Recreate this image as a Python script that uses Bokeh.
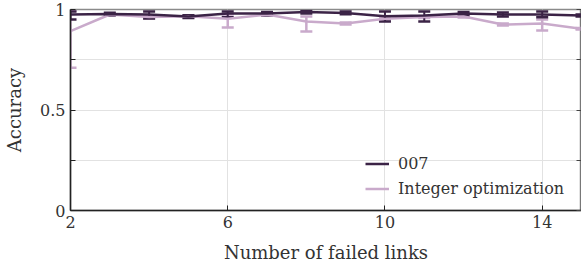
from bokeh.plotting import figure
from bokeh.models import ColumnDataSource, Whisker, TeeHead, LinearAxis, FixedTicker, Legend, LegendItem, Range1d
from bokeh.embed import file_html
from bokeh.resources import INLINE

links = [2, 3, 4, 5, 6, 7, 8, 9, 10, 11, 12, 13, 14, 15]
acc_007 = [0.975, 0.978, 0.975, 0.965, 0.98, 0.98, 0.987, 0.983, 0.967, 0.97, 0.98, 0.975, 0.975, 0.97]
lo_007 = [0.95, 0.972, 0.955, 0.958, 0.962, 0.972, 0.98, 0.976, 0.94, 0.94, 0.972, 0.965, 0.962, 0.965]
hi_007 = [0.99, 0.984, 0.99, 0.972, 0.99, 0.988, 0.993, 0.99, 0.99, 0.99, 0.988, 0.985, 0.99, 0.975]
acc_int = [0.892, 0.975, 0.963, 0.967, 0.954, 0.975, 0.94, 0.93, 0.954, 0.963, 0.965, 0.925, 0.93, 0.904]
lo_int = [0.71, 0.97, 0.955, 0.962, 0.91, 0.97, 0.89, 0.925, 0.95, 0.958, 0.96, 0.92, 0.895, 0.9]
hi_int = [0.993, 0.98, 0.97, 0.972, 0.975, 0.98, 0.965, 0.935, 0.958, 0.968, 0.97, 0.93, 0.95, 0.908]

C007 = "#3b2346"
CINT = "#c9aacb"
FONT = "DejaVu Serif"

p = figure(width=581, height=265, output_backend="svg", toolbar_location=None,
           x_range=Range1d(2, 15), y_range=Range1d(0, 1),
           min_border_left=70, min_border_top=9, min_border_right=0, min_border_bottom=0)
p.outline_line_color = "#8a8a8a"
p.outline_line_width = 1.5

s_int = ColumnDataSource(dict(x=links, y=acc_int, lo=lo_int, hi=hi_int))
s_007 = ColumnDataSource(dict(x=links, y=acc_007, lo=lo_007, hi=hi_007))

r_int = p.line("x", "y", source=s_int, color=CINT, line_width=2.5)
w_int = Whisker(source=s_int, base="x", lower="lo", upper="hi", line_color=CINT, line_width=2.5,
                upper_head=TeeHead(size=12, line_color=CINT, line_width=2.5),
                lower_head=TeeHead(size=12, line_color=CINT, line_width=2.5))
p.add_layout(w_int)
r_007 = p.line("x", "y", source=s_007, color=C007, line_width=2.5)
w_007 = Whisker(source=s_007, base="x", lower="lo", upper="hi", line_color=C007, line_width=2,
                upper_head=TeeHead(size=12, line_color=C007, line_width=2.5),
                lower_head=TeeHead(size=12, line_color=C007, line_width=2.5))
p.add_layout(w_007)

xt = FixedTicker(ticks=[2, 6, 10, 14])
yt = FixedTicker(ticks=[0, 0.25, 0.5, 0.75, 1], minor_ticks=[])
p.xaxis.ticker = xt
p.yaxis.ticker = yt
p.yaxis.major_label_overrides = {0: "0", 0.25: "", 0.5: "0.5", 0.75: "", 1: "1"}
p.xgrid.ticker = xt
p.ygrid.ticker = yt
for g in (p.xgrid, p.ygrid):
    g.grid_line_color = "#e2e2e2"
    g.grid_line_width = 1

for ax in (p.xaxis, p.yaxis):
    ax.axis_line_color = "#222222"
    ax.axis_line_width = 1.5
    ax.major_tick_in = 5
    ax.major_tick_out = 0
    ax.major_tick_line_color = "#222222"
    ax.minor_tick_line_color = None
    ax.major_label_text_font = FONT
    ax.major_label_text_font_size = "16px"
    ax.major_label_text_color = "#333333"
    ax.axis_label_text_font = FONT
    ax.axis_label_text_font_size = "18px"
    ax.axis_label_text_font_style = "normal"
    ax.axis_label_text_color = "#333333"

p.xaxis.major_label_standoff = 5
p.yaxis.major_label_standoff = 5
p.xaxis.axis_label = "Number of failed links"
p.yaxis.axis_label = "Accuracy"
p.xaxis.axis_label_standoff = 11
p.yaxis.axis_label_standoff = 12

ra = LinearAxis(ticker=yt, major_label_text_font_size="0px", major_tick_in=5, major_tick_out=0,
                axis_line_color="#444444", axis_line_width=1.5, major_tick_line_color="#444444",
                minor_tick_line_color=None, major_label_standoff=0)
p.add_layout(ra, "right")

legend = Legend(items=[LegendItem(label="007", renderers=[r_007]),
                       LegendItem(label="Integer optimization", renderers=[r_int])],
                location=(295, 9), border_line_color=None, background_fill_alpha=0,
                label_text_font=FONT, label_text_font_size="16px", label_text_color="#333333",
                glyph_width=24, glyph_height=25, label_height=25, spacing=0, padding=5,
                label_standoff=9, margin=0)
p.add_layout(legend, "center")

open("out.html", "w").write(file_html(p, INLINE))
